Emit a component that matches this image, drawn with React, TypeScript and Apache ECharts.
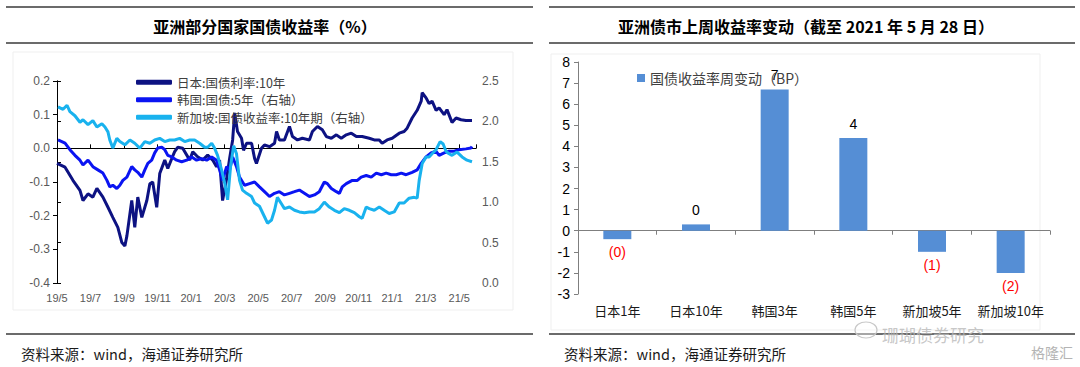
import React, { useEffect, useRef } from "react";
import * as echarts from "echarts";

// ---- Left chart data: months since 2019/5 and yields ----
const JP_M = [0.00,0.48,0.95,1.37,1.55,1.85,2.14,2.38,2.74,3.04,3.33,3.63,3.87,4.05,4.17,4.46,4.64,4.82,5.06,5.36,5.54,5.71,5.95,6.13,6.43,6.61,6.85,7.02,7.20,7.50,7.92,8.10,8.39,8.69,8.99,9.29,9.52,9.70,9.88,10.12,10.30,10.48,10.60,10.77,11.01,11.13,11.31,11.61,11.79,11.90,12.20,12.38,12.68,12.98,13.10,13.27,13.57,13.87,14.05,14.35,14.64,15.06,15.24,15.54,15.83,16.07,16.37,16.67,16.96,17.26,17.56,17.86,18.21,18.63,18.93,19.23,19.40,19.70,20.00,20.42,20.71,20.89,21.19,21.49,21.73,21.79,22.02,22.20,22.38,22.62,22.80,23.10,23.27,23.57,23.81,24.11,24.40,24.76];
const JP_V = [-0.045,-0.056,-0.095,-0.125,-0.155,-0.135,-0.145,-0.119,-0.145,-0.175,-0.205,-0.235,-0.28,-0.29,-0.26,-0.155,-0.235,-0.145,-0.205,-0.155,-0.105,-0.10,-0.175,-0.075,-0.035,-0.06,-0.03,-0.01,0.003,0.0,-0.035,-0.01,-0.025,-0.035,-0.02,-0.035,-0.055,-0.035,-0.155,-0.09,-0.03,0.025,0.105,0.05,0.03,-0.006,0.015,0.015,-0.03,-0.045,0.0,0.01,0.005,0.015,0.05,0.025,0.025,0.065,0.035,0.025,0.03,0.025,0.05,0.065,0.055,0.035,0.03,0.04,0.03,0.04,0.045,0.035,0.035,0.03,0.025,0.025,0.015,0.025,0.03,0.045,0.05,0.06,0.09,0.113,0.14,0.165,0.15,0.133,0.14,0.113,0.12,0.10,0.115,0.077,0.09,0.085,0.083,0.083];

const KR_M = [0.06,0.48,0.77,1.07,1.37,1.55,1.85,2.14,2.44,2.74,2.98,3.15,3.33,3.57,3.75,3.93,4.17,4.46,4.64,4.82,5.06,5.24,5.42,5.65,5.83,6.01,6.25,6.43,6.61,6.85,7.14,7.44,7.74,8.04,8.33,8.63,8.93,9.23,9.52,9.70,9.88,10.12,10.30,10.48,10.71,10.89,11.19,11.49,11.79,12.08,12.38,12.68,12.98,13.27,13.57,13.87,14.17,14.46,14.76,15.06,15.36,15.65,15.95,16.13,16.37,16.67,16.85,17.02,17.26,17.62,17.92,18.15,18.45,18.75,19.05,19.35,19.64,19.94,20.24,20.54,20.83,21.19,21.49,21.73,22.02,22.32,22.62,22.80,23.10,23.39,23.69,23.99,24.40,24.70,24.76];
const KR_V = [1.77,1.73,1.65,1.58,1.52,1.46,1.52,1.44,1.40,1.36,1.27,1.19,1.21,1.17,1.21,1.27,1.31,1.44,1.40,1.37,1.31,1.40,1.48,1.52,1.61,1.67,1.68,1.65,1.58,1.56,1.52,1.50,1.52,1.56,1.52,1.54,1.52,1.56,1.52,1.40,1.27,1.44,1.40,1.56,1.44,1.31,1.21,1.23,1.25,1.19,1.13,1.07,1.11,1.13,1.09,1.11,1.13,1.15,1.11,1.07,1.09,1.13,1.25,1.23,1.17,1.13,1.11,1.19,1.23,1.27,1.27,1.31,1.33,1.31,1.36,1.34,1.36,1.34,1.34,1.36,1.34,1.37,1.40,1.48,1.56,1.61,1.63,1.58,1.61,1.63,1.63,1.65,1.66,1.67,1.69];

const SG_M = [0.06,0.36,0.60,0.77,1.07,1.37,1.55,1.85,2.14,2.38,2.68,2.86,3.04,3.15,3.33,3.57,3.75,4.05,4.35,4.64,4.94,5.24,5.54,5.83,6.13,6.43,6.73,7.02,7.32,7.62,7.92,8.21,8.51,8.81,8.99,9.23,9.40,9.58,9.82,10.00,10.18,10.36,10.54,10.71,10.89,11.07,11.31,11.61,11.79,12.08,12.38,12.56,12.80,12.98,13.15,13.39,13.57,13.87,14.17,14.46,14.76,15.06,15.36,15.65,15.95,16.25,16.55,16.85,17.14,17.44,17.74,18.04,18.21,18.45,18.63,18.93,19.23,19.52,19.82,20.12,20.42,20.71,21.01,21.31,21.49,21.61,21.79,22.02,22.20,22.38,22.62,22.86,23.04,23.21,23.39,23.57,23.87,24.17,24.46,24.76];
const SG_V = [2.18,2.15,2.20,2.12,2.07,1.99,2.02,1.96,2.01,1.93,1.97,1.93,1.87,1.77,1.67,1.79,1.75,1.71,1.77,1.73,1.67,1.75,1.73,1.77,1.79,1.75,1.77,1.77,1.79,1.75,1.77,1.77,1.73,1.68,1.68,1.73,1.67,1.58,1.40,1.24,1.03,1.45,1.70,1.60,1.27,1.15,1.11,1.07,0.99,0.95,0.82,0.74,0.78,0.90,1.06,0.98,0.92,0.94,0.90,0.88,0.87,0.88,0.88,0.92,1.00,0.94,0.90,0.87,0.92,0.90,0.87,0.82,0.80,0.94,0.92,0.90,0.94,0.90,0.86,0.88,0.99,0.99,1.05,1.06,1.05,1.27,1.48,1.56,1.56,1.60,1.65,1.75,1.72,1.63,1.60,1.58,1.62,1.56,1.52,1.50];

const SERIES_NAMES = ["日本:国债利率:10年", "韩国:国债:5年（右轴）", "新加坡:国债收益率:10年期（右轴）"];

// ---- Right chart data ----
const CATS = ["日本1年", "日本10年", "韩国3年", "韩国5年", "新加坡5年", "新加坡10年"];
const CHG = [-0.4, 0.3, 6.7, 4.4, -1.0, -2.0];
const BAR_NAME = "国债收益率周变动（BP）";

const CJK = '"Noto Sans CJK SC", "Liberation Sans", sans-serif';
const LAT = '"Liberation Sans", Arial, sans-serif';

function zip(xs: number[], ys: number[]) {
  return xs.map((x, i) => [x, ys[i]]);
}

function monthLabel(v: number) {
  const t = 4 + Math.round(v);
  const yy = 19 + Math.floor(t / 12);
  const mm = (t % 12) + 1;
  return `${yy}/${mm}`;
}

export default function App() {
  const ref = useRef<HTMLDivElement>(null);
  useEffect(() => {
    if (!ref.current) return;
    const chart = echarts.init(ref.current, null, { renderer: "svg" });
    const axisGray = "#595959";
    const lineSeries = (name: string, data: number[][], color: string, yIdx: number) => ({
      type: "line",
      name,
      xAxisIndex: 0,
      yAxisIndex: yIdx,
      data,
      showSymbol: false,
      symbol: "none",
      lineStyle: { color, width: 3 },
      itemStyle: { color },
      emphasis: { disabled: true },
    });
    const panelLine = (x1: number, x2: number, y: number) => ({
      type: "line",
      shape: { x1, y1: y, x2, y2: y },
      style: { stroke: "#3a3a3a", lineWidth: 1.5 },
    });
    chart.setOption({
      animation: false,
      backgroundColor: "#fff",
      grid: [
        { left: 57, right: 604, top: 81, bottom: 84 },
        { left: 578, right: 30, top: 62, bottom: 73 },
      ],
      legend: [
        {
          data: SERIES_NAMES,
          orient: "vertical",
          left: 131,
          top: 71,
          itemWidth: 36,
          itemHeight: 5,
          itemGap: 5,
          icon: "roundRect",
          selectedMode: false,
          textStyle: { fontFamily: CJK, fontSize: 12.5, color: "#404040", lineHeight: 12 },
        },
        {
          data: [BAR_NAME],
          left: 632,
          top: 66,
          itemWidth: 8,
          itemHeight: 8,
          itemGap: 5,
          icon: "rect",
          selectedMode: false,
          textStyle: { fontFamily: CJK, fontSize: 14, color: "#404040" },
        },
      ],
      xAxis: [
        {
          type: "value",
          gridIndex: 0,
          min: 0,
          max: 25,
          interval: 2,
          position: "bottom",
          axisLine: { show: false, onZero: false },
          axisTick: { show: false },
          splitLine: { show: false },
          axisLabel: {
            formatter: (v: number) => monthLabel(v),
            showMaxLabel: false,
            fontFamily: LAT,
            fontSize: 11,
            color: axisGray,
            margin: 9,
          },
        },
        {
          type: "value",
          gridIndex: 0,
          min: 0,
          max: 25,
          interval: 2,
          axisLine: { show: true, onZero: true, onZeroAxisIndex: 0, lineStyle: { color: "#000", width: 1 } },
          axisTick: { show: true, length: 4, lineStyle: { color: "#000" } },
          axisLabel: { show: false },
          splitLine: { show: false },
        },
        {
          type: "category",
          gridIndex: 1,
          data: CATS,
          axisLine: { show: true, onZero: true, onZeroAxisIndex: 2, lineStyle: { color: "#7f7f7f", width: 1 } },
          axisTick: { show: true, length: 4, interval: 0, lineStyle: { color: "#7f7f7f" } },
          axisLabel: { show: false },
        },
        {
          type: "category",
          gridIndex: 1,
          data: CATS,
          position: "bottom",
          axisLine: { show: false, onZero: false },
          axisTick: { show: false },
          axisLabel: { interval: 0, fontFamily: CJK, fontSize: 13, color: "#1a1a1a", margin: 10 },
        },
      ],
      yAxis: [
        {
          type: "value",
          gridIndex: 0,
          min: -0.4,
          max: 0.2,
          interval: 0.1,
          axisLine: { show: true, lineStyle: { color: "#000" } },
          axisTick: { show: true, length: 4, lineStyle: { color: "#000" } },
          splitLine: { show: false },
          axisLabel: {
            formatter: (v: number) => v.toFixed(1),
            fontFamily: LAT,
            fontSize: 12,
            color: axisGray,
            margin: 7,
          },
        },
        {
          type: "value",
          gridIndex: 0,
          position: "right",
          min: 0,
          max: 2.5,
          interval: 0.5,
          axisLine: { show: true, lineStyle: { color: "#000" } },
          axisTick: { show: true, length: 4, lineStyle: { color: "#000" } },
          splitLine: { show: false },
          axisLabel: {
            formatter: (v: number) => v.toFixed(1),
            fontFamily: LAT,
            fontSize: 12,
            color: axisGray,
            margin: 6,
          },
        },
        {
          type: "value",
          gridIndex: 1,
          min: -3,
          max: 8,
          interval: 1,
          axisLine: { show: true, lineStyle: { color: "#7f7f7f" } },
          axisTick: { show: true, length: 4, lineStyle: { color: "#7f7f7f" } },
          splitLine: { show: false },
          axisLabel: { fontFamily: LAT, fontSize: 14, color: "#000", margin: 8 },
        },
      ],
      series: [
        lineSeries(SERIES_NAMES[0], zip(JP_M, JP_V), "#0d1282", 0),
        lineSeries(SERIES_NAMES[1], zip(KR_M, KR_V), "#0a14f2", 1),
        lineSeries(SERIES_NAMES[2], zip(SG_M, SG_V), "#19b2ee", 1),
        {
          type: "bar",
          name: BAR_NAME,
          xAxisIndex: 2,
          yAxisIndex: 2,
          barWidth: 28,
          itemStyle: { color: "#558ed5" },
          emphasis: { disabled: true },
          data: CHG.map((v) => ({
            value: v,
            label: {
              show: true,
              position: v >= 0 ? "top" : "bottom",
              distance: v >= 0 ? 7 : 6,
              color: v >= 0 ? "#000" : "#ff0000",
              fontFamily: LAT,
              fontSize: 14,
              formatter: () => {
                const r = Math.round(Math.abs(v));
                return v < 0 ? `(${r})` : `${r}`;
              },
            },
          })),
        },
      ],
      graphic: [
        { type: "rect", shape: { x: 13, y: 52, width: 500, height: 258 }, style: { fill: "none", stroke: "#efefef", lineWidth: 1 }, z: -1 },
        { type: "rect", shape: { x: 551, y: 54, width: 489, height: 276 }, style: { fill: "none", stroke: "#efefef", lineWidth: 1 }, z: -1 },
        panelLine(6, 533, 7),
        panelLine(6, 533, 43),
        panelLine(6, 533, 334),
        panelLine(549, 1075, 7),
        panelLine(549, 1075, 43),
        panelLine(549, 1075, 334),
        {
          type: "text",
          x: 265,
          y: 26,
          style: { text: "亚洲部分国家国债收益率（%）", fontFamily: CJK, fontSize: 16, fontWeight: "bold", fill: "#000", align: "center", verticalAlign: "middle" },
        },
        {
          type: "text",
          x: 806,
          y: 26,
          style: { text: "亚洲债市上周收益率变动（截至 2021 年 5 月 28 日）", fontFamily: CJK, fontSize: 16, fontWeight: "bold", fill: "#000", align: "center", verticalAlign: "middle" },
        },
        {
          type: "text",
          x: 21,
          y: 353,
          style: { text: "资料来源：wind，海通证券研究所", fontFamily: CJK, fontSize: 14.5, fill: "#1a1a1a", align: "left", verticalAlign: "middle" },
        },
        {
          type: "text",
          x: 564,
          y: 353,
          style: { text: "资料来源：wind，海通证券研究所", fontFamily: CJK, fontSize: 14.5, fill: "#1a1a1a", align: "left", verticalAlign: "middle" },
        },
        {
          type: "ellipse",
          shape: { cx: 866, cy: 330, rx: 11, ry: 8 },
          style: { fill: "rgba(255,255,255,0.4)", stroke: "#c8c8c8", lineWidth: 1.2 },
          z: 50,
        },
        {
          type: "text",
          x: 882,
          y: 334,
          style: { text: "珊瑚债券研究", fontFamily: CJK, fontSize: 17, fill: "rgba(185,185,185,0.8)", align: "left", verticalAlign: "middle" },
          z: 50,
        },
        {
          type: "text",
          x: 1073,
          y: 352,
          style: { text: "格隆汇", fontFamily: CJK, fontSize: 14, fill: "#b4b4b4", align: "right", verticalAlign: "middle" },
          z: 50,
        },
      ],
    });
    return () => chart.dispose();
  }, []);
  return (
    <div
      ref={ref}
      style={{ position: "absolute", left: 0, top: 0, width: 1080, height: 367, background: "#fff" }}
    />
  );
}
